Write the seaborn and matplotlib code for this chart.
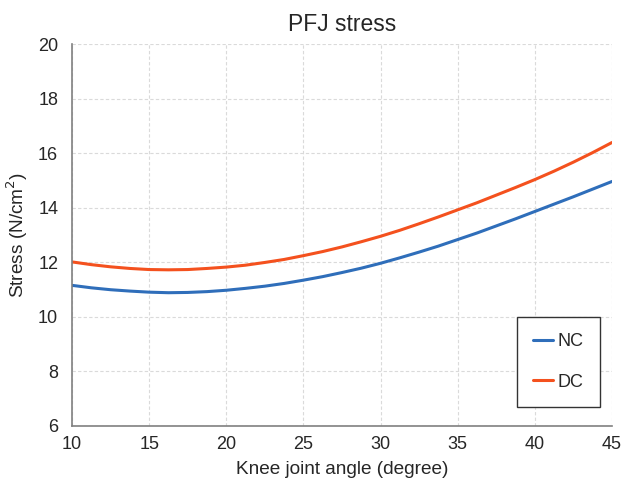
import numpy as np
import pandas as pd
import matplotlib
matplotlib.use('Agg')
import matplotlib.pyplot as plt
import seaborn as sns

# Values (every 1.25 degrees)
angle = [10, 11.25, 12.5, 13.75, 15, 16.25, 17.5, 18.75, 20, 21.25, 22.5, 23.75,
         25, 26.25, 27.5, 28.75, 30, 31.25, 32.5, 33.75, 35, 36.25, 37.5, 38.75,
         40, 41.25, 42.5, 43.75, 45]
nc_stress = [11.16, 11.07, 11.00, 10.95, 10.91, 10.89, 10.90, 10.93, 10.98, 11.05,
             11.13, 11.23, 11.35, 11.48, 11.63, 11.79, 11.97, 12.17, 12.38, 12.60,
             12.84, 13.08, 13.34, 13.60, 13.87, 14.14, 14.41, 14.69, 14.97]
dc_stress = [12.02, 11.92, 11.84, 11.78, 11.74, 11.73, 11.74, 11.78, 11.83, 11.90,
             12.00, 12.11, 12.25, 12.40, 12.57, 12.76, 12.96, 13.18, 13.42, 13.67,
             13.93, 14.19, 14.47, 14.75, 15.04, 15.35, 15.68, 16.03, 16.40]
groups = ['NC', 'DC']
colors = ['#2F6EBA', '#F4511E']
x_ticks = [10, 15, 20, 25, 30, 35, 40, 45]
y_ticks = [6, 8, 10, 12, 14, 16, 18, 20]

sns.set_style('white')
plt.rcParams['font.family'] = ['Liberation Sans', 'DejaVu Sans']

df = pd.DataFrame({
    'angle': angle * 2,
    'stress': nc_stress + dc_stress,
    'group': ['NC'] * len(angle) + ['DC'] * len(angle),
})

fig = plt.figure(figsize=(6.22, 4.8), dpi=100)
ax = fig.add_axes([0.1158, 0.1125, 0.868, 0.795])

sns.lineplot(data=df, x='angle', y='stress', hue='group', hue_order=groups,
             palette=colors, linewidth=2.2, ax=ax)

ax.set_xlim(10, 45)
ax.set_ylim(6, 20)
ax.set_xticks(x_ticks)
ax.set_yticks(y_ticks)
ax.tick_params(axis='y', labelsize=13, length=0, pad=10)
ax.tick_params(axis='x', labelsize=13, length=0, pad=7)
ax.grid(True, linestyle=(0, (3, 2)), color='#DADADA', linewidth=0.8)
for s in ['top', 'right']:
    ax.spines[s].set_visible(False)
for s in ['left', 'bottom']:
    ax.spines[s].set_color('#808080')
    ax.spines[s].set_linewidth(1.2)

ax.set_title('PFJ stress', fontsize=16.5, pad=10)
ax.set_xlabel('Knee joint angle (degree)', fontsize=13.7, labelpad=6)
ax.set_ylabel('Stress (N/cm$^2$)', fontsize=13.7, labelpad=6)

leg = ax.legend(title=None, loc='lower right', bbox_to_anchor=(0.978, 0.05),
                borderaxespad=0, fontsize=13, handlelength=1.1,
                handletextpad=0.25, labelspacing=1.3, borderpad=0.9,
                fancybox=False, framealpha=1)
leg.get_frame().set_edgecolor('#333333')
leg.get_frame().set_linewidth(1.0)

fig.savefig('out.png', dpi=100)
